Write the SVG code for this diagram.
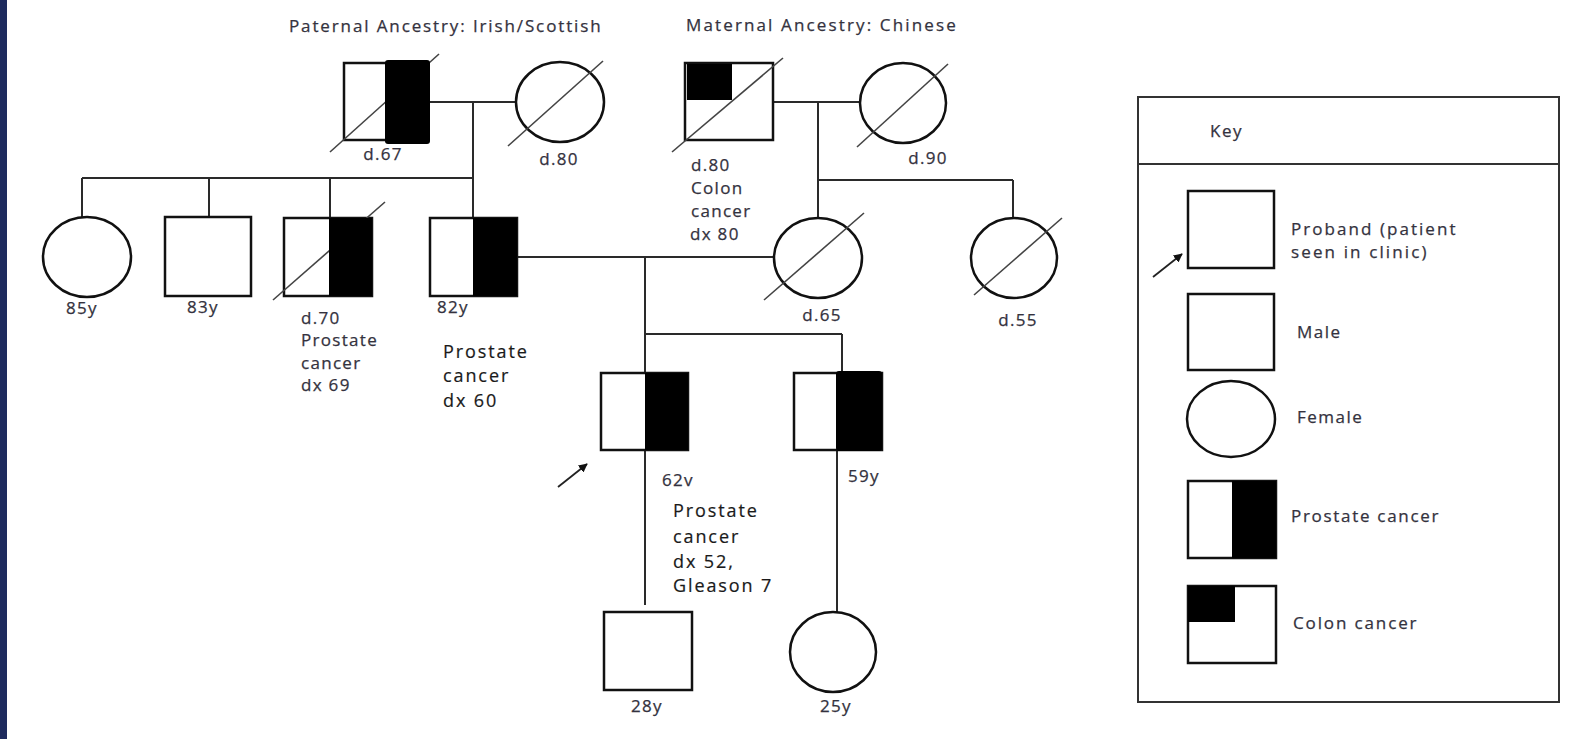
<svg xmlns="http://www.w3.org/2000/svg" width="1585" height="739" viewBox="0 0 1585 739">
<defs>
<style>
.ln{stroke:#2a2a2a;stroke-width:2;fill:none}
.sh{stroke:#111;stroke-width:2.5;fill:#fff}
.blk{fill:#000}
.dg{stroke:#444;stroke-width:1.6}
.t{font-family:"Open Sans","Liberation Sans",sans-serif;font-size:17px;letter-spacing:1.3px;fill:#34323e;stroke:#34323e;stroke-width:0.25px}
.tb{font-family:"Open Sans","Liberation Sans",sans-serif;font-size:18px;letter-spacing:1.9px;fill:#1a1a1a;stroke:#1a1a1a;stroke-width:0.2px}
.tk{font-family:"Open Sans","Liberation Sans",sans-serif;font-size:17px;letter-spacing:1.5px;fill:#34323e;stroke:#34323e;stroke-width:0.25px}
.mid{text-anchor:middle}
</style>
<marker id="ah" viewBox="0 0 10 10" refX="9" refY="5" markerWidth="9" markerHeight="9" markerUnits="userSpaceOnUse" orient="auto"><path d="M0,0 L10,5 L0,10 z" fill="#111"/></marker>
</defs>
<rect x="0" y="0" width="1585" height="739" fill="#fff"/>
<rect x="0" y="0" width="7" height="739" fill="#1e2b5e"/>

<text class="t" x="289" y="32" textLength="313" lengthAdjust="spacing">Paternal Ancestry: Irish/Scottish</text>
<text class="t" x="686" y="31" textLength="271" lengthAdjust="spacing">Maternal  Ancestry: Chinese</text>

<g id="connectors">
<line class="ln" x1="430" y1="102" x2="516" y2="102"/>
<line class="ln" x1="473" y1="102" x2="473" y2="218"/>
<line class="ln" x1="82" y1="178" x2="473" y2="178"/>
<line class="ln" x1="82" y1="178" x2="82" y2="217"/>
<line class="ln" x1="209" y1="178" x2="209" y2="217"/>
<line class="ln" x1="330" y1="178" x2="330" y2="218"/>
<line class="ln" x1="773" y1="102" x2="860" y2="102"/>
<line class="ln" x1="818" y1="102" x2="818" y2="218"/>
<line class="ln" x1="818" y1="180" x2="1013" y2="180"/>
<line class="ln" x1="1013" y1="180" x2="1013" y2="218"/>
<line class="ln" x1="517" y1="257" x2="774" y2="257"/>
<line class="ln" x1="645" y1="257" x2="645" y2="373"/>
<line class="ln" x1="645" y1="334" x2="842" y2="334"/>
<line class="ln" x1="842" y1="334" x2="842" y2="373"/>
<line class="ln" x1="645" y1="450" x2="645" y2="605"/>
<line class="ln" x1="837" y1="450" x2="837" y2="613"/>
<line stroke="#222" stroke-width="1.8" x1="558" y1="487" x2="587" y2="464" marker-end="url(#ah)"/>
</g>

<g id="pgf">
<rect class="sh" x="344" y="63" width="84" height="77"/>
<line class="dg" x1="330" y1="152" x2="439" y2="54"/>
<rect class="blk" x="385" y="60" width="45" height="84" rx="3"/>
<text class="t mid" x="383" y="160">d.67</text>
</g>
<g id="pgm">
<ellipse class="sh" cx="560" cy="102" rx="44" ry="40"/>
<line class="dg" x1="508" y1="146" x2="603" y2="61"/>
<text class="t mid" x="559" y="165">d.80</text>
</g>
<g id="mgf">
<rect class="sh" x="685" y="63" width="88" height="77"/>
<rect class="blk" x="687" y="64" width="45" height="36"/>
<line class="dg" x1="672" y1="152" x2="783" y2="58"/>
<text class="t" x="691" y="171">d.80</text>
<text class="t" x="691" y="194">Colon</text>
<text class="t" x="691" y="217">cancer</text>
<text class="t" x="690" y="240">dx 80</text>
</g>
<g id="mgm">
<ellipse class="sh" cx="903" cy="103" rx="43" ry="40"/>
<line class="dg" x1="857" y1="147" x2="948" y2="64"/>
<text class="t mid" x="928" y="164">d.90</text>
</g>

<g id="aunt85">
<ellipse class="sh" cx="87" cy="257" rx="44" ry="40"/>
<text class="t mid" x="82" y="314">85y</text>
</g>
<g id="uncle83">
<rect class="sh" x="165" y="217" width="86" height="79"/>
<text class="t mid" x="203" y="313">83y</text>
</g>
<g id="uncle70">
<rect class="sh" x="284" y="218" width="88" height="78"/>
<line class="dg" x1="273" y1="300" x2="385" y2="202"/>
<rect class="blk" x="329" y="218" width="43" height="78"/>
<text class="t" x="301" y="324">d.70</text>
<text class="t" x="301" y="346">Prostate</text>
<text class="t" x="301" y="369">cancer</text>
<text class="t" x="301" y="391">dx 69</text>
</g>
<g id="father">
<rect class="sh" x="430" y="218" width="87" height="78"/>
<rect class="blk" x="473" y="218" width="44" height="78"/>
<text class="t mid" x="453" y="313">82y</text>
<text class="tb" x="443" y="358">Prostate</text>
<text class="tb" x="443" y="382">cancer</text>
<text class="tb" x="443" y="407">dx 60</text>
</g>
<g id="mother">
<ellipse class="sh" cx="818" cy="258" rx="44" ry="40"/>
<line class="dg" x1="764" y1="300" x2="864" y2="213"/>
<text class="t mid" x="822" y="321">d.65</text>
</g>
<g id="aunt55">
<ellipse class="sh" cx="1014" cy="258" rx="43" ry="40"/>
<line class="dg" x1="974" y1="295" x2="1062" y2="218"/>
<text class="t mid" x="1018" y="326">d.55</text>
</g>

<g id="proband">
<rect class="sh" x="601" y="373" width="87" height="77"/>
<rect class="blk" x="645" y="373" width="43" height="77"/>
<text class="t" x="662" y="486">62v</text>
<text class="tb" x="673" y="517">Prostate</text>
<text class="tb" x="673" y="543">cancer</text>
<text class="tb" x="673" y="568">dx 52,</text>
<text class="tb" x="673" y="592">Gleason 7</text>
</g>
<g id="brother">
<rect class="sh" x="794" y="373" width="88" height="77"/>
<rect class="blk" x="836" y="371" width="46" height="80" rx="3"/>
<text class="t" x="848" y="482">59y</text>
</g>
<g id="son">
<rect class="sh" x="604" y="612" width="88" height="78"/>
<text class="t mid" x="647" y="712">28y</text>
</g>
<g id="daughter">
<ellipse class="sh" cx="833" cy="652" rx="43" ry="40"/>
<text class="t mid" x="836" y="712">25y</text>
</g>

<g id="key">
<rect x="1138" y="97" width="421" height="605" fill="none" stroke="#333" stroke-width="2"/>
<line x1="1138" y1="164" x2="1559" y2="164" stroke="#333" stroke-width="2"/>
<text class="tk" x="1210" y="137">Key</text>
<rect class="sh" x="1188" y="191" width="86" height="77"/>
<line stroke="#222" stroke-width="1.8" x1="1153" y1="277" x2="1182" y2="254" marker-end="url(#ah)"/>
<text class="tk" x="1291" y="235" textLength="166" lengthAdjust="spacing">Proband (patient</text>
<text class="tk" x="1291" y="258" textLength="137" lengthAdjust="spacing">seen in clinic)</text>
<rect class="sh" x="1188" y="294" width="86" height="76"/>
<text class="tk" x="1297" y="338">Male</text>
<ellipse class="sh" cx="1231" cy="419" rx="44" ry="38"/>
<text class="tk" x="1297" y="423">Female</text>
<rect class="sh" x="1188" y="481" width="88" height="77"/>
<rect class="blk" x="1232" y="481" width="44" height="77"/>
<text class="tk" x="1291" y="522" textLength="149" lengthAdjust="spacing">Prostate cancer</text>
<rect class="sh" x="1188" y="586" width="88" height="77"/>
<rect class="blk" x="1188" y="586" width="47" height="36"/>
<text class="tk" x="1293" y="629" textLength="125" lengthAdjust="spacing">Colon cancer</text>
</g>
</svg>
